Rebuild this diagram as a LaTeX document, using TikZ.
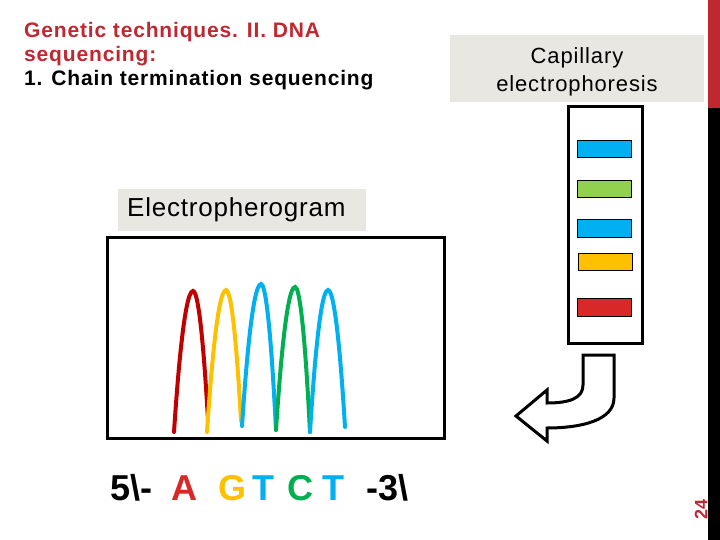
\documentclass[tikz,border=0pt]{standalone}
\usepackage{fontspec}
\setmainfont{Liberation Sans}
\usetikzlibrary{arrows.meta}

\definecolor{titlered}{RGB}{192,40,48}
\definecolor{labelgray}{RGB}{232,231,225}
\definecolor{peakred}{RGB}{192,0,0}
\definecolor{peakyellow}{RGB}{255,192,0}
\definecolor{peakblue}{RGB}{0,176,240}
\definecolor{peakgreen}{RGB}{0,176,80}
\definecolor{bandgreen}{RGB}{146,208,80}
\definecolor{bandred}{RGB}{216,40,40}

\tikzset{
  band/.style={draw=black, line width=0.8pt},
  peak/.style={line width=4pt},
  seqletter/.style={font=\fontsize{36}{40}\selectfont\bfseries, inner sep=0pt, anchor=base}
}

\begin{document}
\begin{tikzpicture}[x=1pt, y=-1pt, line cap=round]
    \useasboundingbox (0,0) rectangle (720,540);
    % --- banda lateral derecha
    \fill[titlered] (708,0) rectangle (720,108);
    \fill[black] (708,108) rectangle (720,540);
    \node[titlered, rotate=90, font=\fontsize{18}{20}\selectfont\bfseries, inner sep=0pt]
         (pagenum) at (701,509) {24};
    % --- titulo
    \node[font=\fontsize{21}{24}\selectfont\bfseries\addfontfeatures{LetterSpace=4},
         anchor=north west, inner sep=0pt, align=left] (title) at (24,22)
         {\textcolor{titlered}{Genetic techniques. II. DNA}\\
          \textcolor{titlered}{sequencing:}\\
          1. Chain termination sequencing};
    % --- electroforesis capilar
    \fill[labelgray] (450,35) rectangle (704,102);
    \node[font=\fontsize{22}{28}\selectfont\addfontfeatures{LetterSpace=4}, align=center]
         (celabel) at (577,72) {Capillary\\electrophoresis};
    \draw[line width=3pt] (568,107) rectangle (642,343);
    \draw[band, fill=peakblue]   (577,140) rectangle (631,157);
    \draw[band, fill=bandgreen]  (577,180) rectangle (631,197);
    \draw[band, fill=peakblue]   (577,219) rectangle (631,237);
    \draw[band, fill=peakyellow] (578,253) rectangle (632,270);
    \draw[band, fill=bandred]    (577,298) rectangle (631,316);
    % --- flecha de retorno
    \draw[line width=3pt, line join=miter]
         (583,355) -- (614,355) -- (614,398)
         .. controls (614,420) and (582,428) .. (547,428)
         -- (547,441) -- (516,416) -- (547,390) -- (547,403)
         .. controls (570,403) and (583,398) .. (583,385) -- cycle;
    % --- electroferograma
    \fill[labelgray] (118,189) rectangle (366,231);
    \node[font=\fontsize{26}{30}\selectfont\addfontfeatures{LetterSpace=3},
         anchor=west, inner sep=0pt] (eplabel) at (127,210) {Electropherogram};
    \draw[line width=3pt] (107,237) rectangle (444,438);
    \draw[peak, peakred]    (174,432) parabola bend (193,291) (208,420);
    \draw[peak, peakyellow] (207,432) parabola bend (226,290) (241,421);
    \draw[peak, peakblue]   (242,426) parabola bend (261,284) (276,430);
    \draw[peak, peakgreen]  (276,430) parabola bend (295,287) (310,432);
    \draw[peak, peakblue]   (310,432) parabola bend (328,290) (345,427);
    % --- secuencia leida
    \node[seqletter, anchor=base west] (five) at (110,500) {5\textbackslash-};
    \node[seqletter, bandred]    (sa)  at (184,500) {A};
    \node[seqletter, peakyellow] (sg)  at (232,500) {G};
    \node[seqletter, peakblue]   (st1) at (263,500) {T};
    \node[seqletter, peakgreen]  (sc)  at (300,500) {C};
    \node[seqletter, peakblue]   (st2) at (333,500) {T};
    \node[seqletter, anchor=base west] (three) at (366,500) {-3\textbackslash};
\end{tikzpicture}
\end{document}
